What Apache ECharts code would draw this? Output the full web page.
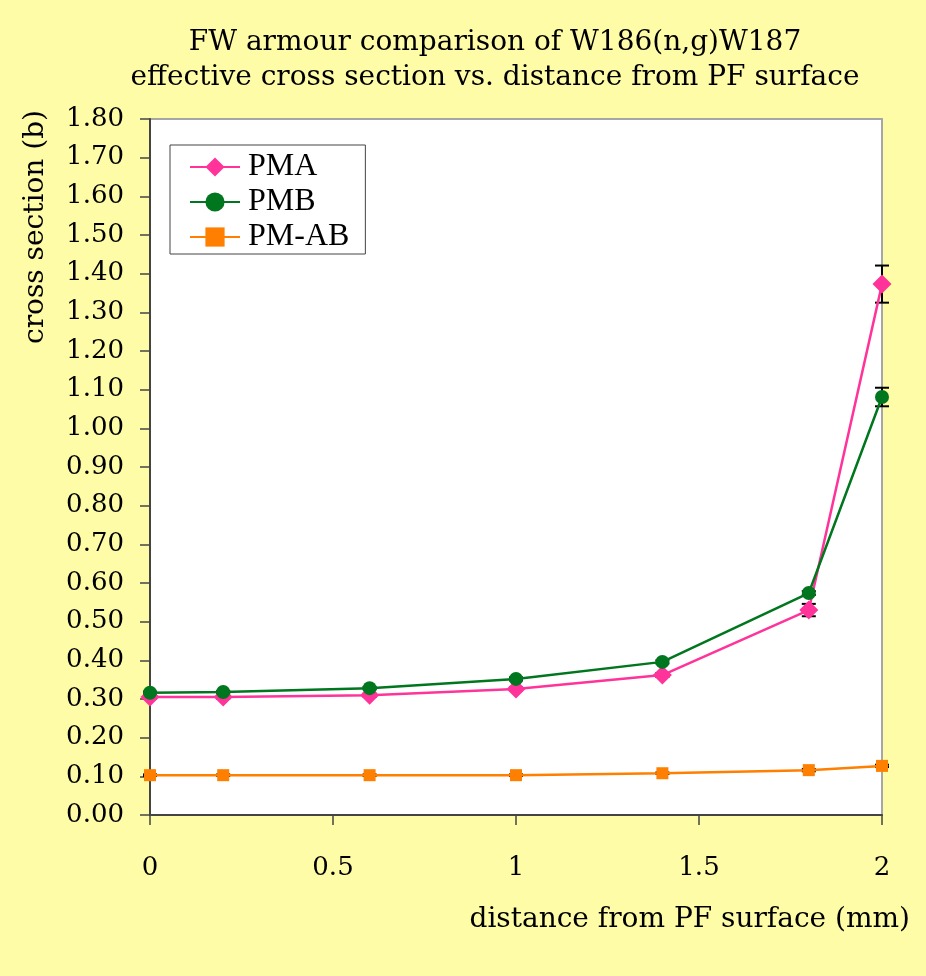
<!DOCTYPE html>
<html>
<head>
<meta charset="utf-8">
<script src="https://cdn.jsdelivr.net/npm/echarts@6/dist/echarts.min.js"></script>
<style>
  html, body { margin: 0; padding: 0; background: #FFFCA8; }
  #chart { width: 926px; height: 976px; }
</style>
</head>
<body>
<div id="chart"></div>
<script>
// Distance from the plasma-facing surface (mm)
const distance = [0, 0.2, 0.6, 1.0, 1.4, 1.8, 2.0];
// Effective W186(n,g)W187 cross sections (barn)
const pma  = [0.305, 0.305, 0.310, 0.326, 0.362, 0.530, 1.373];
const pmb  = [0.316, 0.318, 0.328, 0.352, 0.396, 0.574, 1.081];
const pmab = [0.103, 0.103, 0.103, 0.103, 0.108, 0.116, 0.127];
// Uncertainties (±, barn)
const pmaErr  = [0.004, 0.004, 0.004, 0.004, 0.005, 0.016, 0.048];
const pmbErr  = [0.003, 0.003, 0.003, 0.004, 0.004, 0.005, 0.024];
const pmabErr = [0.002, 0.002, 0.002, 0.002, 0.002, 0.003, 0.003];
// Axis tick labels
const xTicks = ['0', '0.5', '1', '1.5', '2'];

const seriesNames = ['PMA', 'PMB', 'PM-AB'];
const colors = ['#FF3399', '#00761F', '#FF7F00'];
const symbols = ['diamond', 'circle', 'rect'];
const symbolSizes = [19, 14, 12];
const values = [pma, pmb, pmab];
const errors = [pmaErr, pmbErr, pmabErr];

const wideSerif = '"DejaVu Serif", "Liberation Serif", serif';
const serif = '"Liberation Serif", "DejaVu Serif", serif';

function pairs(ys) { return distance.map((x, i) => [x, ys[i]]); }

function errorBars(ys, errs) {
  return {
    type: 'custom',
    z: 1,
    silent: true,
    data: distance.map((x, i) => [x, ys[i] - errs[i], ys[i] + errs[i]]),
    renderItem: function (params, api) {
      const lo = api.coord([api.value(0), api.value(1)]);
      const hi = api.coord([api.value(0), api.value(2)]);
      const hw = 7;
      const style = { stroke: '#000', lineWidth: 2 };
      return {
        type: 'group',
        children: [
          { type: 'line', shape: { x1: lo[0], y1: lo[1], x2: hi[0], y2: hi[1] }, style },
          { type: 'line', shape: { x1: lo[0] - hw, y1: lo[1], x2: lo[0] + hw, y2: lo[1] }, style },
          { type: 'line', shape: { x1: hi[0] - hw, y1: hi[1], x2: hi[0] + hw, y2: hi[1] }, style }
        ]
      };
    }
  };
}

const series = [];
values.forEach((ys, k) => {
  series.push(errorBars(ys, errors[k]));
});
values.forEach((ys, k) => {
  series.push({
    name: seriesNames[k],
    type: 'line',
    z: 3,
    data: pairs(ys),
    symbol: symbols[k],
    symbolSize: symbolSizes[k],
    showAllSymbol: true,
    lineStyle: { color: colors[k], width: 2.5 },
    itemStyle: { color: colors[k] },
    emphasis: { disabled: true },
    animation: false
  });
});

const chart = echarts.init(document.getElementById('chart'), null, { renderer: 'canvas' });
chart.setOption({
  backgroundColor: '#FFFCA8',
  animation: false,
  title: {
    text: 'FW armour comparison of W186(n,g)W187\neffective cross section vs. distance from PF surface',
    left: 490,
    top: 20,
    textAlign: 'center',
    textStyle: {
      fontFamily: wideSerif,
      fontSize: 28,
      fontWeight: 'normal',
      color: '#000',
      lineHeight: 35
    }
  },
  legend: {
    data: seriesNames,
    orient: 'vertical',
    left: 170,
    top: 145,
    padding: [6, 16, 1, 19],
    itemGap: 3,
    itemWidth: 50,
    itemHeight: 24,
    backgroundColor: '#fff',
    borderColor: '#444',
    borderWidth: 1,
    borderRadius: 0,
    textStyle: { fontFamily: serif, fontSize: 32, lineHeight: 30, color: '#000', padding: [0, 0, 0, 3] }
  },
  grid: {
    left: 150,
    right: 44,
    top: 119,
    bottom: 161,
    show: true,
    backgroundColor: '#fff',
    borderColor: '#A6A6A6',
    borderWidth: 2
  },
  xAxis: {
    type: 'value',
    min: 0,
    max: 2,
    interval: 0.5,
    splitLine: { show: false },
    axisLine: { onZero: false, lineStyle: { color: '#444', width: 2 } },
    axisTick: { inside: false, length: 10, lineStyle: { color: '#444', width: 1.5 } },
    axisLabel: {
      margin: 40,
      fontFamily: wideSerif,
      fontSize: 26,
      color: '#000',
      formatter: function (v) {
        const idx = Math.round(v / 0.5);
        return xTicks[idx];
      }
    }
  },
  yAxis: {
    type: 'value',
    min: 0,
    max: 1.8,
    interval: 0.1,
    splitLine: { show: false },
    axisLine: { lineStyle: { color: '#444', width: 2 } },
    axisTick: { inside: false, length: 10, lineStyle: { color: '#444', width: 1.5 } },
    axisLabel: {
      margin: 26,
      fontFamily: wideSerif,
      fontSize: 26,
      color: '#000',
      formatter: function (v) { return v.toFixed(2); }
    }
  },
  graphic: [
    {
      type: 'text',
      left: 22,
      top: 110,
      rotation: Math.PI / 2,
      style: {
        text: 'cross section (b)',
        fontFamily: wideSerif,
        fontSize: 28,
        fill: '#000'
      }
    },
    {
      type: 'text',
      right: 16,
      top: 906,
      style: {
        text: 'distance from PF surface (mm)',
        fontFamily: wideSerif,
        fontSize: 28,
        fill: '#000'
      }
    }
  ],
  series: series
});
</script>
</body>
</html>
